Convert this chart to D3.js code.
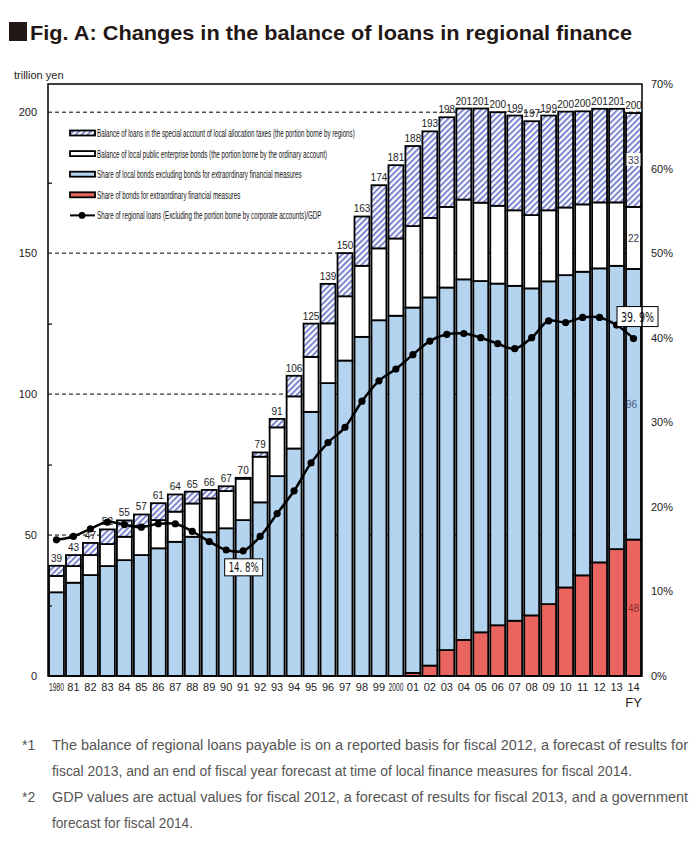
<!DOCTYPE html>
<html>
<head>
<meta charset="utf-8">
<script src="https://cdn.jsdelivr.net/npm/d3@7"></script>
<style>
  body { margin: 0; background: #fff; }
  svg { display: block; }
</style>
</head>
<body>
<div id="chart"></div>
<script>
// fiscal years
const years = ["1980","81","82","83","84","85","86","87","88","89","90","91","92","93","94","95","96","97","98","99",
  "2000","01","02","03","04","05","06","07","08","09","10","11","12","13","14"];

// trillion yen, stacked bottom to top
const extraBonds = [0,0,0,0,0,0,0,0,0,0,0,0,0,0,0,0,0,0,0,0,
  0,1.1,3.7,9.2,12.8,15.5,18.0,19.6,21.5,25.5,31.4,35.7,40.3,45.0,48.4];
const localBonds = [29.7,33.1,35.8,39.0,41.1,42.9,45.3,47.6,49.4,51.0,52.4,55.3,61.6,70.9,80.7,93.7,103.9,111.9,120.3,126.2,
  127.8,129.6,130.6,128.6,127.9,124.6,121.2,118.8,116.0,114.5,110.8,107.7,104.3,100.5,96.0];
const enterpriseBonds = [5.8,5.9,7.1,7.8,8.3,10.3,10.0,10.7,11.8,12.0,13.2,14.7,16.2,17.3,18.5,19.5,21.2,22.8,25.2,25.5,
  27.4,28.9,28.2,28.6,28.3,27.8,27.6,26.8,26.0,25.2,24.0,23.9,23.4,22.5,22.0];
const allocationLoans = [3.6,3.9,4.3,5.2,5.8,4.1,6.0,6.1,4.2,3.0,1.7,0.3,1.5,3.0,7.3,11.8,14.0,15.3,17.5,22.4,
  26.0,28.4,30.7,31.8,32.3,33.4,33.2,33.6,33.3,33.6,34.0,33.0,33.2,33.2,33.3];
const totals = [39,43,47,52,55,57,61,64,65,66,67,70,79,91,106,125,139,150,163,174,
  181,188,193,198,201,201,200,199,197,199,200,200,201,201,200];

// regional loans / GDP, %
const gdpShare = [16.1,16.5,17.4,18.2,17.9,17.6,18.0,18.0,17.1,15.9,14.9,14.8,16.5,19.2,21.9,25.2,27.6,29.4,32.5,34.9,
  36.3,38.0,39.6,40.4,40.5,40.0,39.3,38.7,40.0,42.0,41.8,42.4,42.4,41.5,39.9];

const leftTicks = [0, 50, 100, 150, 200];
const leftMinor = [25, 75, 125, 175];
const rightTicks = [0, 10, 20, 30, 40, 50, 60, 70];

const legendLabels = [
  "Balance of loans in the special account of local allocation taxes (the portion borne by regions)",
  "Balance of local public enterprise bonds (the portion borne by the ordinary account)",
  "Share of local bonds excluding bonds for extraordinary financial measures",
  "Share of bonds for extraordinary financial measures",
  "Share of regional loans (Excluding the portion borne by corporate accounts)/GDP"
];

const callouts = [
  {year: "91", text: "14. 8%", below: true},
  {year: "14", text: "39. 9%", below: false}
];

const notes = [
  {mark: "*1", text: "The balance of regional loans payable is on a reported basis for fiscal 2012, a forecast of results for", w: 636},
  {mark: "",   text: "fiscal 2013, and an end of fiscal year forecast at time of local finance measures for fiscal 2014.", w: 580},
  {mark: "*2", text: "GDP values are actual values for fiscal 2012, a forecast of results for fiscal 2013, and a government", w: 636},
  {mark: "",   text: "forecast for fiscal 2014.", w: 141}
];

const font = "'Liberation Sans', Arial, sans-serif";
const margin = {top: 84, right: 58, bottom: 174, left: 48},
  width = 700 - margin.left - margin.right,
  height = 850 - margin.top - margin.bottom;

const root = d3.select("#chart").append("svg")
  .attr("width", 700)
  .attr("height", 850)
  .style("font-family", font);

// hatch pattern
const defs = root.append("defs");
const pat = defs.append("pattern")
  .attr("id", "hatch")
  .attr("patternUnits", "userSpaceOnUse")
  .attr("width", 4.2)
  .attr("height", 4.2)
  .attr("patternTransform", "rotate(45)");
pat.append("rect").attr("width", 4.2).attr("height", 4.2).attr("fill", "#fff");
pat.append("line")
  .attr("x1", 1).attr("y1", 0).attr("x2", 1).attr("y2", 4.2)
  .attr("stroke", "#7b84cf").attr("stroke-width", 2);

// title
root.append("rect").attr("x", 9).attr("y", 22).attr("width", 18).attr("height", 19).attr("fill", "#231815");
root.append("text")
  .attr("x", 30).attr("y", 40)
  .attr("textLength", 602).attr("lengthAdjust", "spacingAndGlyphs")
  .style("font-size", "21px").style("font-weight", "bold").style("fill", "#231815")
  .text("Fig. A: Changes in the balance of loans in regional finance");

root.append("text")
  .attr("x", 14).attr("y", 79)
  .style("font-size", "11px").style("fill", "#222")
  .text("trillion yen");

const svg = root.append("g")
  .attr("transform", `translate(${margin.left}, ${margin.top})`);

const x = d3.scaleBand().domain(years).range([0, width]).paddingInner(0.12).paddingOuter(0.06);
const y = d3.scaleLinear().domain([0, 210]).range([height, 0]);
const y2 = d3.scaleLinear().domain([0, 70]).range([height, 0]);

// dashed gridlines behind bars
svg.append("g").selectAll("line")
  .data(leftTicks.filter(d => d > 0))
  .join("line")
    .attr("x1", 0).attr("x2", width)
    .attr("y1", d => y(d)).attr("y2", d => y(d))
    .style("stroke", "#000")
    .style("stroke-width", 1)
    .style("stroke-dasharray", "4,3");

// stacked bars
const rows = years.map((yr, i) => ({
  year: yr,
  extra: extraBonds[i], local: localBonds[i], enterprise: enterpriseBonds[i], allocation: allocationLoans[i]
}));
const keys = ["extra", "local", "enterprise", "allocation"];
const fills = {extra: "#ea6560", local: "#b4d3ef", enterprise: "#ffffff", allocation: "url(#hatch)"};
const stack = d3.stack().keys(keys)(rows);

svg.append("g").selectAll("g")
  .data(stack)
  .join("g")
    .attr("fill", d => fills[d.key])
  .selectAll("rect")
  .data(d => d.filter(s => s[1] - s[0] > 0))
  .join("rect")
    .attr("x", d => x(d.data.year))
    .attr("width", x.bandwidth())
    .attr("y", d => y(d[1]))
    .attr("height", d => y(d[0]) - y(d[1]))
    .style("stroke", "#000")
    .style("stroke-width", 1.8);

// total labels
svg.append("g").selectAll("text")
  .data(years)
  .join("text")
    .attr("x", d => x(d) + x.bandwidth() / 2)
    .attr("y", (d, i) => y(d3.sum(keys, k => rows[i][k])) - 4)
    .attr("text-anchor", "middle")
    .style("font-size", "10px")
    .style("fill", "#222")
    .text((d, i) => totals[i]);

// segment labels on the last bar
const last = stack.map(s => s[s.length - 1]);
const segColors = {extra: "#8a2e2e", local: "#4a5f7e", enterprise: "#333a4a", allocation: "#333a4a"};
const segG = svg.append("g");
last.forEach((s, k) => {
  const key = keys[k];
  const cx = x(years[years.length - 1]) + x.bandwidth() / 2 + (key === "local" ? -2 : 0);
  const cy = y((s[0] + s[1]) / 2);
  if (key === "allocation") {
    segG.append("rect").attr("x", cx - 7).attr("y", cy - 7).attr("width", 14).attr("height", 13).attr("fill", "#fff");
  }
  segG.append("text")
    .attr("x", cx).attr("y", cy + 4)
    .attr("text-anchor", "middle")
    .style("font-size", "10px")
    .style("fill", segColors[key])
    .text(Math.round(s[1] - s[0]));
});

// GDP share line
const line = d3.line()
  .x((d, i) => x(years[i]) + x.bandwidth() / 2)
  .y(d => y2(d))
  .curve(d3.curveCatmullRom.alpha(0.5));

svg.append("path")
  .datum(gdpShare)
  .attr("d", line)
  .style("fill", "none")
  .style("stroke", "#000")
  .style("stroke-width", 2.5);

svg.append("g").selectAll("circle")
  .data(gdpShare)
  .join("circle")
    .attr("cx", (d, i) => x(years[i]) + x.bandwidth() / 2)
    .attr("cy", d => y2(d))
    .attr("r", 3.6)
    .style("fill", "#000");

// callout boxes
callouts.forEach(c => {
  const i = years.indexOf(c.year);
  const px = x(c.year) + x.bandwidth() / 2 + (c.below ? 0.5 : 4);
  const py = y2(gdpShare[i]);
  const bw = c.below ? 38 : 41, bh = c.below ? 17 : 20;
  const by = c.below ? py + 8 : py - 12 - bh;
  const g = svg.append("g");
  g.append("rect")
    .attr("x", px - bw / 2).attr("y", by)
    .attr("width", bw).attr("height", bh)
    .style("fill", "#fff").style("stroke", "#000").style("stroke-width", 1);
  g.append("text")
    .attr("x", px).attr("y", by + bh / 2 + 5)
    .attr("text-anchor", "middle")
    .style("font-size", "14px")
    .style("font-family", "'DejaVu Sans', sans-serif")
    .attr("textLength", bw - 8).attr("lengthAdjust", "spacingAndGlyphs")
    .style("fill", "#111")
    .text(c.text);
});

// frame
svg.append("rect")
  .attr("width", width).attr("height", height)
  .style("fill", "none").style("stroke", "#000").style("stroke-width", 1.5);

// axes
const yAxis = svg.append("g")
  .call(d3.axisLeft(y).tickValues(leftTicks).tickSize(0).tickPadding(11));
const yMinor = svg.append("g")
  .call(d3.axisLeft(y).tickValues(leftMinor).tickSize(-4).tickFormat(""));
const y2Axis = svg.append("g")
  .attr("transform", `translate(${width}, 0)`)
  .call(d3.axisRight(y2).tickValues(rightTicks).tickSize(0).tickPadding(9).tickFormat(d => d + "%"));
const xAxis = svg.append("g")
  .attr("transform", `translate(0, ${height})`)
  .call(d3.axisBottom(x).tickSize(0).tickPadding(7));

[yAxis, yMinor, y2Axis, xAxis].forEach(a => {
  a.select(".domain").remove();
  a.selectAll("text").style("font-size", "11px").style("font-family", font).style("fill", "#222");
});
yMinor.selectAll("line").style("stroke", "#000").style("stroke-width", 1.2);
// four-digit years are squeezed to the bar width
xAxis.selectAll("text")
  .filter(d => d.length === 4)
  .each(function() {
    const k = x.bandwidth() / this.getComputedTextLength();
    d3.select(this).attr("transform", `scale(${k}, 1)`);
  });

svg.append("text")
  .attr("x", x(years[years.length - 1]) + x.bandwidth() / 2)
  .attr("y", height + 31)
  .attr("text-anchor", "middle")
  .style("font-size", "13px").style("fill", "#222")
  .text("FY");

// legend
const legend = svg.append("g").attr("transform", "translate(22, 49)");
const legendItems = legend.selectAll("g")
  .data(legendLabels)
  .join("g")
    .attr("transform", (d, i) => `translate(0, ${i * 20.6})`);

legendItems.filter((d, i) => i < 4)
  .append("rect")
    .attr("x", 0).attr("y", -2.5)
    .attr("width", 25).attr("height", 5)
    .attr("fill", (d, i) => fills[keys[3 - i]])
    .style("stroke", "#000").style("stroke-width", 1.8);

const lineItem = legendItems.filter((d, i) => i === 4);
lineItem.append("line")
  .attr("x1", 0).attr("x2", 25).attr("y1", 0).attr("y2", 0)
  .style("stroke", "#000").style("stroke-width", 2);
lineItem.append("circle").attr("cx", 12).attr("cy", 0).attr("r", 3.4).style("fill", "#000");

// condensed legend text: squeeze horizontally with a scale transform
const legendTextG = legendItems.append("g");
const legendText = legendTextG.append("text")
  .attr("x", 0).attr("y", 0)
  .style("font-size", "11px")
  .style("fill", "#111")
  .text(d => d);
const squeeze = 258 / legendText.node().getComputedTextLength();
legendTextG.attr("transform", `translate(27, 4) scale(${squeeze}, 1)`);

// footnotes
const noteG = root.append("g")
  .style("font-family", "'Liberation Sans Narrow', 'Liberation Sans', Arial, sans-serif")
  .style("font-size", "14px")
  .style("fill", "#555");
notes.forEach((n, i) => {
  const by = 750 + i * 26;
  if (n.mark) noteG.append("text").attr("x", 22).attr("y", by).text(n.mark);
  noteG.append("text")
    .attr("x", 52).attr("y", by)
    .attr("textLength", n.w).attr("lengthAdjust", "spacingAndGlyphs")
    .text(n.text);
});
</script>
</body>
</html>
